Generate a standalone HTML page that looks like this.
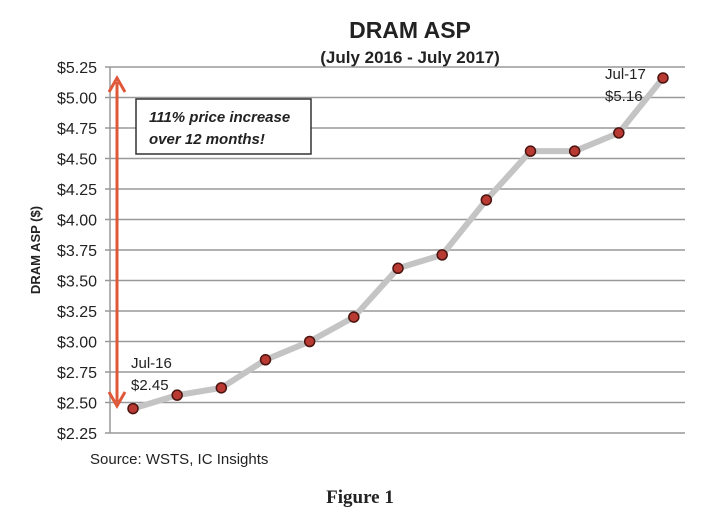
<!DOCTYPE html>
<html><head><meta charset="utf-8"><style>
body{margin:0;background:#fff;width:720px;height:518px;overflow:hidden}
svg{display:block}
text{font-family:"Liberation Sans",sans-serif;fill:#222}
</style></head><body>
<svg id="chart" width="720" height="518">
<text x="410" y="38" text-anchor="middle" font-size="23" font-weight="bold">DRAM ASP</text>
<text x="410" y="63" text-anchor="middle" font-size="17" font-weight="bold">(July 2016 - July 2017)</text>
<g id="grid"></g>
<g id="yticks"></g>
<text transform="translate(40,250) rotate(-90)" text-anchor="middle" font-size="13" font-weight="bold">DRAM ASP ($)</text>
<line x1="117" y1="82" x2="117" y2="402" stroke="#e0583a" stroke-width="3"/>
<path d="M109,92 L117,78 L125,92 M109,392 L117,406 L125,392" fill="none" stroke="#e0583a" stroke-width="3"/>
<rect x="136" y="99" width="175" height="55" fill="#fff" stroke="#333" stroke-width="1.5"/>
<text x="149" y="122" font-size="15" font-weight="bold" font-style="italic">111% price increase</text>
<text x="149" y="144" font-size="15" font-weight="bold" font-style="italic">over 12 months!</text>
<g id="series"></g>
<text x="131" y="368" font-size="15">Jul-16</text>
<text x="131" y="390" font-size="15">$2.45</text>
<text x="605" y="79" font-size="15">Jul-17</text>
<text x="605" y="101" font-size="15">$5.16</text>
<text x="90" y="464" font-size="15">Source:  WSTS, IC Insights</text>
<text x="360" y="503" text-anchor="middle" font-size="19" font-weight="bold" style="font-family:'Liberation Serif',serif">Figure 1</text>
</svg>
<script>
const months=["Jul-16","Aug-16","Sep-16","Oct-16","Nov-16","Dec-16","Jan-17","Feb-17","Mar-17","Apr-17","May-17","Jun-17","Jul-17"];
const prices=[2.45,2.56,2.62,2.85,3.00,3.20,3.60,3.71,4.16,4.56,4.56,4.71,5.16];
const yTicks=[2.25,2.5,2.75,3.0,3.25,3.5,3.75,4.0,4.25,4.5,4.75,5.0,5.25];
const NS="http://www.w3.org/2000/svg";
const yMin=2.25,yMax=5.25,pTop=67,pBot=433,pLeft=110,pRight=685;
const y=v=>pBot-(v-yMin)/(yMax-yMin)*(pBot-pTop);
const x=i=>133+i*(663-133)/(months.length-1);
function mk(t,a,p){const e=document.createElementNS(NS,t);for(const k in a)e.setAttribute(k,a[k]);p.appendChild(e);return e;}
const g=document.getElementById('grid'),yt=document.getElementById('yticks'),s=document.getElementById('series');
yTicks.forEach(v=>{
 const l=mk('line',{x1:pLeft-5,x2:pRight,y1:y(v),y2:y(v),stroke:'#999','stroke-width':1.5},g);
 
 
 const t=mk('text',{x:97,y:y(v)+6,'text-anchor':'end','font-size':16},yt);
 t.textContent='$'+v.toFixed(2);
 
 
});
const ax=mk('line',{x1:pLeft,x2:pLeft,y1:pTop,y2:pBot,stroke:'#999','stroke-width':1.5},g);


const pl=mk('polyline',{points:prices.map((v,i)=>x(i)+','+y(v)).join(' '),fill:'none',stroke:'#c4c4c4','stroke-width':6,'stroke-linejoin':'round'},s);


prices.forEach((v,i)=>{
 const c=mk('circle',{cx:x(i),cy:y(v),r:5,fill:'#b83a32',stroke:'#4a1410','stroke-width':1.5},s);
 
 
});
</script>
</body></html>
